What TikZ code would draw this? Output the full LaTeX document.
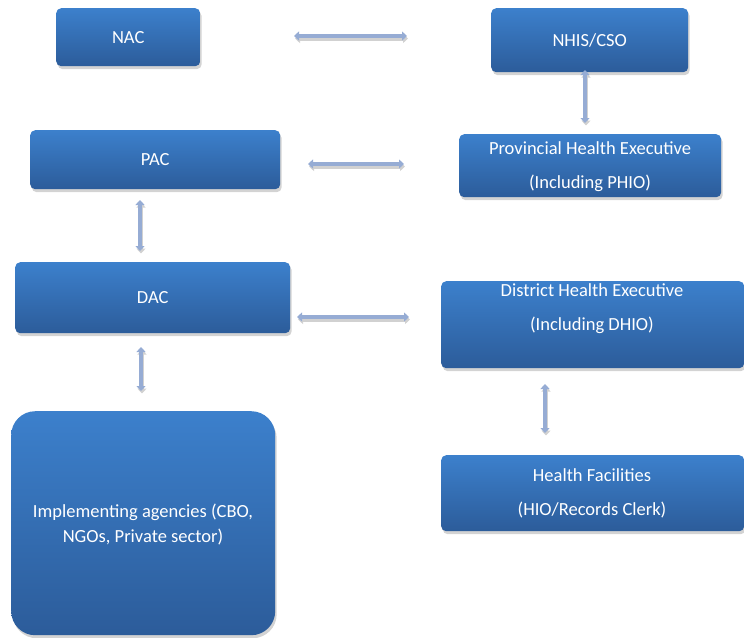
\documentclass[tikz,border=0pt]{standalone}
\usepackage{fontspec}
\setmainfont{Carlito}
\usetikzlibrary{shadows,arrows.meta}
\definecolor{boxtop}{RGB}{60,128,204}
\definecolor{boxbot}{RGB}{44,92,154}
\definecolor{arrowc}{RGB}{150,172,212}
\tikzset{
  orgbox/.style={rectangle, rounded corners=5pt, top color=boxtop, bottom color=boxbot,
    draw=none, anchor=north west, inner sep=0pt,
    drop shadow={opacity=0.35, shadow xshift=1.5pt, shadow yshift=-3pt}},
  boxtext/.style={text=white, font=\fontsize{18.5}{21}\selectfont, align=center, inner sep=0pt},
  link/.style={draw=arrowc, line width=4pt,
    {Triangle[length=5pt,width=9pt]}-{Triangle[length=5pt,width=9pt]},
    preaction={draw=black!18, line width=4pt, transform canvas={xshift=1pt,yshift=-2.5pt}}}
}
\begin{document}
\begin{tikzpicture}[x=1pt,y=-1pt]
\useasboundingbox (0,0) rectangle (744,637);
% boxes
\node[orgbox, minimum width=144, minimum height=58] (nac) at (56,8) {};
\node[boxtext] (nact) at (nac.center) {NAC};
\node[orgbox, minimum width=197, minimum height=64] (nhis) at (491,8) {};
\node[boxtext] (nhist) at (nhis.center) {NHIS/CSO};
\node[orgbox, minimum width=250, minimum height=59] (pac) at (30,130) {};
\node[boxtext] (pact) at (pac.center) {PAC};
\node[orgbox, minimum width=262, minimum height=63] (phe) at (459,134) {};
\node[boxtext] (phet) at (590,167) {Provincial Health Executive\\[13pt](Including PHIO)};
\node[orgbox, minimum width=275, minimum height=71] (dac) at (15,262) {};
\node[boxtext] (dact) at (dac.center) {DAC};
\node[orgbox, minimum width=303, minimum height=87] (dhe) at (441,281) {};
\node[boxtext] (dhet) at (592,309) {District Health Executive\\[13pt](Including DHIO)};
\node[orgbox, rounded corners=24pt, minimum width=264, minimum height=224] (impl) at (11,411) {};
\node[boxtext] (implt) at (143,524.5) {Implementing agencies (CBO,\\[4pt]NGOs, Private sector)};
\node[orgbox, minimum width=303, minimum height=76] (hf) at (441,455) {};
\node[boxtext] (hft) at (592,493.5) {Health Facilities\\[13pt](HIO/Records Clerk)};
% arrow end points
\coordinate (a1) at (294,36); \coordinate (b1) at (407,36);
\coordinate (a2) at (585,70); \coordinate (b2) at (585,123);
\coordinate (a3) at (308,164); \coordinate (b3) at (404,164);
\coordinate (a4) at (140,200); \coordinate (b4) at (140,251);
\coordinate (a5) at (297,317); \coordinate (b5) at (409,317);
\coordinate (a6) at (141,347); \coordinate (b6) at (141,391);
\coordinate (a7) at (545,384); \coordinate (b7) at (545,433);
\draw[link] (a1) -- (b1);
\draw[link] (a2) -- (b2);
\draw[link] (a3) -- (b3);
\draw[link] (a4) -- (b4);
\draw[link] (a5) -- (b5);
\draw[link] (a6) -- (b6);
\draw[link] (a7) -- (b7);
\end{tikzpicture}
\end{document}
